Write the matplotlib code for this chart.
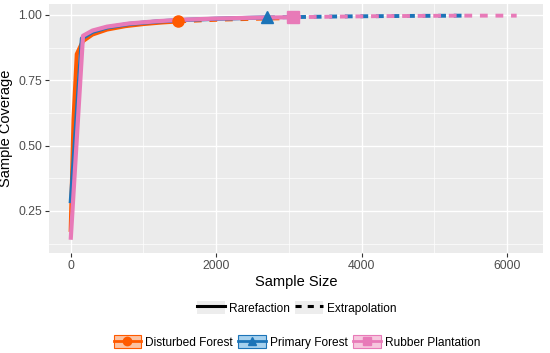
import matplotlib.pyplot as plt
from matplotlib.lines import Line2D
from matplotlib.patches import Patch
from matplotlib.ticker import MultipleLocator

plt.rcParams["font.family"] = ["Liberation Sans", "DejaVu Sans"]

# Disturbed Forest
dist_m_rare = [1, 40, 85, 170, 300, 500, 750, 1000, 1250, 1480]
dist_c_rare = [0.17, 0.60, 0.85, 0.90, 0.925, 0.944, 0.957, 0.965, 0.971, 0.975]
dist_m_ext = [1480, 1800, 2100, 2400, 2700, 2960]
dist_c_ext = [0.975, 0.979, 0.982, 0.984, 0.986, 0.987]

# Primary Forest
prim_m_rare = [1, 155, 300, 500, 800, 1200, 1600, 2000, 2400, 2700]
prim_c_rare = [0.28, 0.91, 0.935, 0.952, 0.965, 0.975, 0.981, 0.985, 0.988, 0.99]
prim_m_ext = [2700, 3200, 3700, 4200, 4700, 5400]
prim_c_ext = [0.99, 0.992, 0.994, 0.995, 0.996, 0.997]

# Rubber Plantation
rub_m_rare = [1, 170, 300, 500, 800, 1200, 1600, 2000, 2500, 3060]
rub_c_rare = [0.14, 0.92, 0.94, 0.955, 0.967, 0.976, 0.982, 0.986, 0.989, 0.991]
rub_m_ext = [3060, 3600, 4200, 4800, 5400, 6130]
rub_c_ext = [0.991, 0.993, 0.995, 0.996, 0.997, 0.997]

sites = ["Disturbed Forest", "Primary Forest", "Rubber Plantation"]
colors = ["#FF5A00", "#1C74B8", "#E87AB8"]
light = ["#FBC3A3", "#A6D1EE", "#F6C7DE"]
markers = ["o", "^", "s"]

fig = plt.figure(figsize=(5.5, 3.53), dpi=100)
ax = fig.add_axes([0.089, 0.283, 0.898, 0.706])
ax.set_facecolor("#EBEBEB")

series = [
    (dist_m_rare, dist_c_rare, dist_m_ext, dist_c_ext),
    (prim_m_rare, prim_c_rare, prim_m_ext, prim_c_ext),
    (rub_m_rare, rub_c_rare, rub_m_ext, rub_c_ext),
]
for (mr, cr, me, ce), col, mk in zip(series, colors, markers):
    ax.plot(mr, cr, color=col, lw=3.0, solid_capstyle="butt", zorder=3)
    ax.plot(me, ce, color=col, lw=2.8, ls=(0, (2.0, 2.0)), zorder=3)
    ax.plot(mr[-1], cr[-1], marker=mk, color=col, ms=8, zorder=4)

ax.set_xlim(-298, 6490)
ax.set_ylim(0.089, 1.042)
ax.xaxis.set_major_locator(MultipleLocator(2000))
ax.xaxis.set_minor_locator(MultipleLocator(1000))
ax.yaxis.set_major_locator(MultipleLocator(0.25))
ax.yaxis.set_minor_locator(MultipleLocator(0.125))
ax.set_yticks([0.25, 0.5, 0.75, 1.0])
ax.set_yticklabels(["0.25", "0.50", "0.75", "1.00"])
ax.grid(which="major", color="white", lw=1.0)
ax.grid(which="minor", color="white", lw=0.5)
ax.set_axisbelow(True)
for s in ax.spines.values():
    s.set_visible(False)
ax.tick_params(which="major", length=3, color="#333333", labelsize=8.8,
               labelcolor="#4D4D4D", pad=2)
ax.tick_params(which="minor", length=0)

ax.set_xlabel("Sample Size", fontsize=10.5, labelpad=2)
ax.set_ylabel("Sample Coverage", fontsize=10.5, labelpad=4)

# line type legend
h1 = [
    (Patch(facecolor="#EDEDED", edgecolor="none"), Line2D([], [], color="black", lw=2.2)),
    (Patch(facecolor="#EDEDED", edgecolor="none"), Line2D([], [], color="black", lw=2.2, ls=(0, (2, 2)))),
]
fig.legend(h1, ["Rarefaction", "Extrapolation"], loc="center", bbox_to_anchor=(0.54, 0.128),
           ncol=2, frameon=False, fontsize=8.6, handlelength=2.3, handleheight=1.3,
           columnspacing=0.45, handletextpad=0.35)

# site legend
h2 = [
    (Patch(facecolor=lc, edgecolor=c, lw=0.8),
     Line2D([], [], color=c, lw=2, marker=m, ms=6))
    for c, lc, m in zip(colors, light, markers)
]
fig.legend(h2, sites, loc="center", bbox_to_anchor=(0.54, 0.031),
           ncol=3, frameon=False, fontsize=8.6, handlelength=2.3, handleheight=1.3,
           columnspacing=0.45, handletextpad=0.35)

fig.savefig("out.png", dpi=100)
